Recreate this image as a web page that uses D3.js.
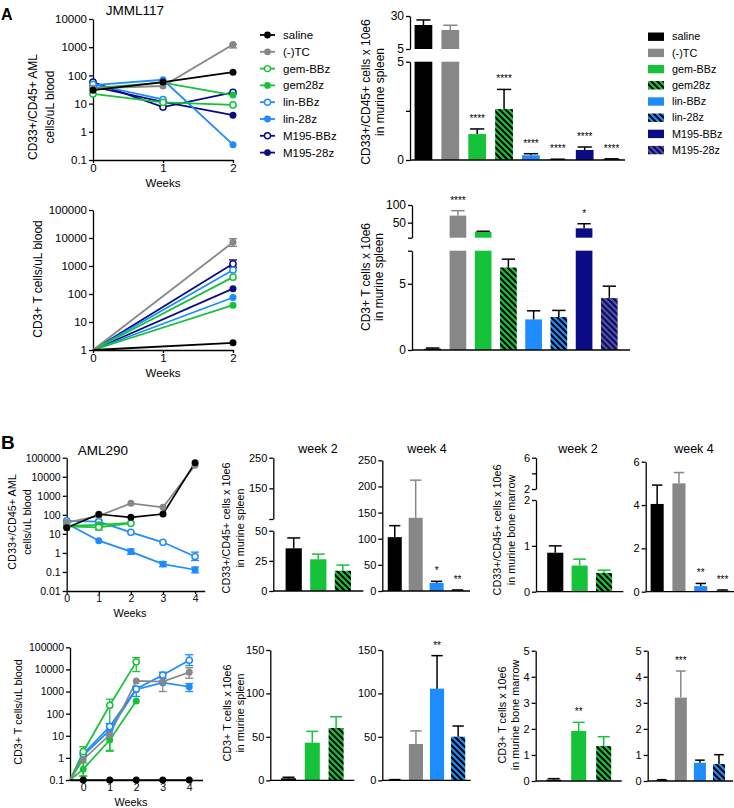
<!DOCTYPE html>
<html><head><meta charset="utf-8">
<script src="https://cdn.jsdelivr.net/npm/d3@7"></script>
<style>body{margin:0;background:#fff;}</style>
</head><body>
<script>
// ---------------- DATA ----------------
const seriesNames = ["saline","(-)TC","gem-BBz","gem28z","lin-BBz","lin-28z","M195-BBz","M195-28z"];
const seriesColors = ["#000000","#878787","#16c23a","#16c23a","#1c8cff","#1c8cff","#0b0b85","#0b0b85"];
const seriesOpen  = [false,false,true,false,true,false,true,false];
const seriesHatch = [false,false,false,true,false,true,false,true];

// Panel A: JMML117
const weeksA = [0,1,2];
const aAmlBlood = [[30,58,130],[35,42,1250],[22,11,9],[35,55,20],[48,14,null],[45,70,0.35],[58,7.5,25],[40,11.5,3.9]];
const aAmlBloodErr = [[1,2,940,1250]];
const weeksAT = [0,2];
const aTBlood = [[1,1.8],[1,7000],[1,400],[1,40],[1,720],[1,75],[1,1200],[1,155]];
const aTBloodErr = [[1,1,5000,9500],[6,1,900,1650]];
const aAmlSpleen = [23.2,19.4,1.32,2.59,0.24,0.03,0.51,0.04];
const aAmlSpleenErr = [3.8,3.6,0.26,1.0,0.08,0.01,0.15,0.02];
const aAmlSpleenStars = ["","","****","****","****","****","****","****"];
const aTSpleen = [0.1,70,24,6.23,2.31,2.49,34,3.92];
const aTSpleenErr = [0.05,14,1.7,0.63,0.65,0.5,13,0.9];
const aTSpleenStars = ["","****","","","","","*",""];

// Panel B: AML290
const bSeries = [0,1,2,3,4,5];
const weeksB = [0,1,2,3,4];
const bAmlBlood = [[21,107,74,110,55000],[39,88,400,250,40000],[25,22,36,null,null],[26,30,38,null,null],[48,44,12,3.6,0.65],[35,4.4,1.17,0.26,0.13]];
const bAmlBloodErr = [[2,1,16,29],[4,1,33,52],[4,4,0.4,1.1],[5,2,0.85,1.6],[5,3,0.19,0.34],[5,4,0.09,0.18]];
const weeksBT = [-0.5,0,1,2,3,4];
const bTBlood = [[0.1,0.1,0.1,0.1,0.1,0.1],[0.1,0.85,11,3000,2800,7400],[0.1,1.9,240,22000,null,null],[0.1,0.31,6.4,370,null,null],[0.1,1.5,26,1300,5600,26000],[0.1,1.3,18,1250,2500,1650]];
const bTBloodErr = [[2,1,0.15,3.2],[2,2,2,450],[2,3,8000,34000],[3,1,0.15,0.6],[3,2,2.2,10],[1,4,1000,3000],[1,5,4000,12000],[4,2,10,36],[4,3,600,1700],[4,4,4000,7500],[4,5,15000,46000],[5,5,1000,2300]];

const groupsW2 = ["saline","gem-BBz","gem28z"];
const groupsW4 = ["saline","(-)TC","lin-BBz","lin-28z"];
const bSpleenAmlW2 = [35.4,26.3,16.8], bSpleenAmlW2Err = [8.6,4.3,4.7];
const bSpleenAmlW4 = [103,140,15.5,1], bSpleenAmlW4Err = [22,72,3,1], bSpleenAmlW4Stars = ["","","*","**"];
const bBmAmlW2 = [0.85,0.57,0.41], bBmAmlW2Err = [0.15,0.14,0.06];
const bBmAmlW4 = [4.05,5.0,0.26,0.05], bBmAmlW4Err = [0.87,0.5,0.12,0.03], bBmAmlW4Stars = ["","","**","***"];
const bSpleenTW2 = [2.3,43.3,60.2], bSpleenTW2Err = [1.2,13,13];
const bSpleenTW4 = [0.5,41.8,105.5,50.2], bSpleenTW4Err = [0.3,15,38,12.3], bSpleenTW4Stars = ["","","**",""];
const bBmTW2 = [0.05,1.92,1.34], bBmTW2Err = [0.04,0.33,0.36], bBmTW2Stars = ["","**",""];
const bBmTW4 = [0.03,3.2,0.7,0.65], bBmTW4Err = [0.02,1.02,0.1,0.36], bBmTW4Stars = ["","***","",""];

// ---------------- DRAWING ----------------
const FONT = '"Liberation Sans", Arial, Helvetica, sans-serif';
const svg = d3.select("body").append("svg").attr("width",734).attr("height",808)
  .style("font-family",FONT);
const defs = svg.append("defs");
seriesNames.forEach((n,i)=>{
  if(!seriesHatch[i]) return;
  const p = defs.append("pattern").attr("id","hatch"+i).attr("patternUnits","userSpaceOnUse")
    .attr("width",6).attr("height",6);
  p.append("rect").attr("width",6).attr("height",6).attr("fill",seriesColors[i]);
  p.append("path").attr("d","M-1,-1L7,7M-1,5L1,7M5,-1L7,1")
    .attr("stroke", i===7 ? "#5e5e7c" : "#000").attr("stroke-width", i===7 ? 1.8 : 2);
});
const fillOf = i => seriesHatch[i] ? `url(#hatch${i})` : seriesColors[i];

function styleAxis(g, fs){
  g.attr("font-family",FONT);
  g.selectAll("text").attr("font-size",fs).attr("fill","#000");
  g.selectAll("path,line").attr("stroke","#000").attr("stroke-width",1.3);
}
function txt(x,y,s,fs,opt={}){
  return svg.append("text").attr("x",x).attr("y",y).attr("text-anchor",opt.anchor||"middle")
    .attr("dy",opt.dy||"0.35em").attr("font-size",fs).attr("font-weight",opt.bold?"bold":null)
    .attr("fill","#000").text(s);
}
function vlabel(x,y,s,fs){
  svg.append("text").attr("transform",`translate(${x},${y}) rotate(-90)`).attr("text-anchor","middle")
    .attr("dy","0.35em").attr("font-size",fs).attr("fill","#000").text(s);
}

function linePanel(o){
  const g = svg.append("g");
  const x = d3.scaleLinear().domain(o.xDomain).range(o.xRange);
  const y = d3.scaleLog().domain(o.yDomain).range(o.yRange);
  const fmt = d => d>=1 ? d3.format("d")(d) : String(+d.toPrecision(1));
  const ya = g.append("g").attr("transform",`translate(${o.xRange[0]},0)`)
    .call(d3.axisLeft(y).tickValues(o.yTicks).tickFormat(fmt).tickSize(4).tickSizeOuter(0).tickPadding(2));
  const xa = g.append("g").attr("transform",`translate(0,${o.yRange[0]})`)
    .call(d3.axisBottom(x).tickValues(o.xTicks).tickFormat(d3.format("d")).tickSize(3).tickSizeOuter(0).tickPadding(1));
  styleAxis(ya,o.fs); styleAxis(xa,o.fs);
  const line = d3.line().defined(d=>d.v!=null).x(d=>x(d.w)).y(d=>y(d.v));
  const order = o.series.map((s,k)=>k).reverse();
  order.forEach(k=>{
    const si = o.series[k];
    const pts = o.weeks.map((w,j)=>({w, v:o.data[k][j]}));
    g.append("path").datum(pts).attr("d",line).attr("fill","none")
      .attr("stroke",seriesColors[si]).attr("stroke-width",o.lw);
  });
  o.errs.forEach(([k,j,lo,hi])=>{
    const col = seriesColors[o.series[k]];
    const cx = x(o.weeks[j]);
    g.append("line").attr("x1",cx).attr("x2",cx).attr("y1",y(lo)).attr("y2",y(hi)).attr("stroke",col).attr("stroke-width",1.3);
    [lo,hi].forEach(v=>g.append("line").attr("x1",cx-4).attr("x2",cx+4).attr("y1",y(v)).attr("y2",y(v)).attr("stroke",col).attr("stroke-width",1.3));
  });
  order.forEach(k=>{
    const si = o.series[k];
    o.weeks.forEach((w,j)=>{
      const v = o.data[k][j];
      if(v==null || w<=o.markerFrom) return;
      g.append("circle").attr("cx",x(w)).attr("cy",y(v)).attr("r",seriesOpen[si]?3.1:3.5)
        .attr("fill",seriesOpen[si]?"#fff":seriesColors[si])
        .attr("stroke",seriesColors[si]).attr("stroke-width",seriesOpen[si]?1.5:0);
    });
  });
}

function barPanel(o){
  const g = svg.append("g");
  const x = d3.scaleBand().domain(o.groups).range([o.x0,o.x1]).paddingInner(o.pi).paddingOuter(o.po);
  const bw = x.bandwidth();
  const segs = o.segs.map(s=>Object.assign({},s,{y:d3.scaleLinear().domain(s.domain).range(s.range)}));
  segs.forEach(s=>{
    const a = g.append("g").attr("transform",`translate(${o.x0},0)`)
      .call(d3.axisLeft(s.y).tickValues(s.ticks).tickFormat((d,i)=>s.labels[i]).tickSize(4).tickSizeOuter(0).tickPadding(2));
    styleAxis(a,o.fs);
  });
  const base = segs[0];
  o.groups.forEach((name,i)=>{
    const si = seriesNames.indexOf(name);
    const v = o.values[i], e = o.errs[i];
    segs.forEach(s=>{
      if(v > s.domain[0]){
        const top = Math.min(v, s.domain[1]);
        g.append("rect").attr("x",x(name)).attr("y",s.y(top)).attr("width",bw)
          .attr("height",s.y(s.domain[0])-s.y(top)).attr("fill",fillOf(si));
      }
    });
    const seg = segs.find(s=>v>=s.domain[0] && v<=s.domain[1]) || segs[segs.length-1];
    const cx = x(name)+bw/2, yv = seg.y(v), ye = seg.y(v+e);
    const col = o.errColor(name);
    g.append("line").attr("x1",cx).attr("x2",cx).attr("y1",yv).attr("y2",ye).attr("stroke",col).attr("stroke-width",1.5);
    g.append("line").attr("x1",cx-bw*0.4).attr("x2",cx+bw*0.4).attr("y1",ye).attr("y2",ye).attr("stroke",col).attr("stroke-width",1.5);
    if(o.stars && o.stars[i]){
      g.append("text").attr("x",cx).attr("y",ye-7).attr("text-anchor","middle")
        .attr("font-size",10).attr("fill","#000").attr("opacity",0.99).text(o.stars[i]);
    }
  });
  g.append("line").attr("x1",o.x0).attr("x2",o.x1).attr("y1",base.y(0)).attr("y2",base.y(0))
    .attr("stroke","#000").attr("stroke-width",1.3);
}

const errA = n => n==="(-)TC" ? seriesColors[1] : "#000";
const errB = n => n==="(-)TC" ? seriesColors[1] : (n.startsWith("gem") ? seriesColors[2] : "#000");

// ---------- Panel A ----------
txt(1,14,"A",16,{anchor:"start",dy:0,bold:true});
txt(135,10,"JMML117",13.5);
linePanel({weeks:weeksA, data:aAmlBlood, series:[0,1,2,3,4,5,6,7], errs:aAmlBloodErr,
  xDomain:[0,2], xRange:[93,233], yDomain:[0.1,10000], yRange:[160,19],
  yTicks:[0.1,1,10,100,1000,10000], xTicks:[0,1,2], fs:11.5, lw:1.8, markerFrom:-Infinity});
vlabel(33,107,"CD33+/CD45+ AML",12); vlabel(50,107,"cells/uL blood",12);
txt(163,183,"Weeks",11.5);

linePanel({weeks:weeksAT, data:aTBlood, series:[0,1,2,3,4,5,6,7], errs:aTBloodErr,
  xDomain:[0,2], xRange:[93,233], yDomain:[1,100000], yRange:[350,210],
  yTicks:[1,10,100,1000,10000,100000], xTicks:[0,1,2], fs:11.5, lw:1.8, markerFrom:0});
vlabel(38,279,"CD3+ T cells/uL blood",12);
txt(163,373,"Weeks",11.5);

// line legend
seriesNames.forEach((n,i)=>{
  const yy = 35+i*16.8;
  svg.append("line").attr("x1",260).attr("x2",275).attr("y1",yy).attr("y2",yy).attr("stroke",seriesColors[i]).attr("stroke-width",1.8);
  svg.append("circle").attr("cx",267.5).attr("cy",yy).attr("r",seriesOpen[i]?3:3.4)
    .attr("fill",seriesOpen[i]?"#fff":seriesColors[i]).attr("stroke",seriesColors[i]).attr("stroke-width",seriesOpen[i]?1.4:0);
  txt(283,yy,n,11.5,{anchor:"start"});
});

barPanel({groups:seriesNames, values:aAmlSpleen, errs:aAmlSpleenErr, stars:aAmlSpleenStars,
  x0:410, x1:625, pi:0.34, po:0.17, fs:12, errColor:errA,
  segs:[{domain:[0,5],range:[160,61.7],ticks:[0,2.5,5],labels:["0","","5"]},
        {domain:[5,30],range:[49,16],ticks:[5,30],labels:["5","30"]}]});
vlabel(366,92,"CD33+/CD45+ cells x 10e6",12); vlabel(380,92,"in murine spleen",12);

// bar legend
seriesNames.forEach((n,i)=>{
  const yy = 36.7+i*16.2;
  svg.append("rect").attr("x",648).attr("y",yy-4.2).attr("width",16).attr("height",8.4).attr("fill",fillOf(i));
  txt(672,yy,n,10.8,{anchor:"start"});
});

barPanel({groups:seriesNames, values:aTSpleen, errs:aTSpleenErr, stars:aTSpleenStars,
  x0:412, x1:630, pi:0.34, po:0.49, fs:12, errColor:errA,
  segs:[{domain:[0,7.5],range:[350,250.7],ticks:[0,5,7.5],labels:["0","5",""]},
        {domain:[7.5,100],range:[237.7,205],ticks:[7.5,50,100],labels:["","50","100"]}]});
vlabel(366,277,"CD3+ T cells x 10e6",12); vlabel(379,277,"in murine spleen",12);

// ---------- Panel B ----------
txt(1,442,"B",19,{anchor:"start",dy:0,bold:true});
txt(103,450,"AML290",13.5);
linePanel({weeks:weeksB, data:bAmlBlood, series:bSeries, errs:bAmlBloodErr,
  xDomain:[0,4.3], xRange:[66.7,204.7], yDomain:[0.01,100000], yRange:[591,457.7],
  yTicks:[0.01,0.1,1,10,100,1000,10000,100000], xTicks:[0,1,2,3,4], fs:10.5, lw:1.7, markerFrom:-Infinity});
vlabel(12,522,"CD33+/CD45+ AML",10.8); vlabel(27,522,"cells/uL blood",10.8);
txt(130,613,"Weeks",10.8);

linePanel({weeks:weeksBT, data:bTBlood, series:bSeries, errs:bTBloodErr,
  xDomain:[-0.5,4.5], xRange:[70,202.5], yDomain:[0.1,100000], yRange:[780,647.3],
  yTicks:[0.1,1,10,100,1000,10000,100000], xTicks:[0,1,2,3,4], fs:10.5, lw:1.7, markerFrom:-0.5});
vlabel(18,712,"CD3+ T cells/uL blood",10.8);
txt(131,802,"Weeks",10.8);

// titles
txt(318,449,"week 2",12.5); txt(427,449,"week 4",12.5);
txt(578,449,"week 2",12.5); txt(694,449,"week 4",12.5);

barPanel({groups:groupsW2, values:bSpleenAmlW2, errs:bSpleenAmlW2Err, x0:273.3, x1:363.3, pi:0.34, po:0.5, fs:11, errColor:errB,
  segs:[{domain:[0,50],range:[591,530.7],ticks:[0,25,50],labels:["0","25","50"]},
        {domain:[50,250],range:[519,457.7],ticks:[50,150,250],labels:["","150","250"]}]});
vlabel(226,528,"CD33+/CD45+ cells x 10e6",10.8); vlabel(240,528,"in murine spleen",10.8);

barPanel({groups:groupsW4, values:bSpleenAmlW4, errs:bSpleenAmlW4Err, stars:bSpleenAmlW4Stars, x0:382.3, x1:470, pi:0.33, po:0.26, fs:11, errColor:errB,
  segs:[{domain:[0,250],range:[591,460.3],ticks:[0,50,100,150,200,250],labels:["0","50","100","150","200","250"]}]});

barPanel({groups:groupsW2, values:bBmAmlW2, errs:bBmAmlW2Err, x0:536, x1:623.3, pi:0.34, po:0.46, fs:11, errColor:errB,
  segs:[{domain:[0,2],range:[591.7,500],ticks:[0,1,2],labels:["0","1","2"]},
        {domain:[2,6],range:[489,457.7],ticks:[2,4,6],labels:["2","","6"]}]});
vlabel(497,530,"CD33+/CD45+ cells x 10e6",10.8); vlabel(511,530,"in murine bone marrow",10.8);

barPanel({groups:groupsW4, values:bBmAmlW4, errs:bBmAmlW4Err, stars:bBmAmlW4Stars, x0:645.7, x1:734, pi:0.4, po:0.225, fs:11, errColor:errB,
  segs:[{domain:[0,6],range:[591.7,461.7],ticks:[0,2,4,6],labels:["0","2","4","6"]}]});

barPanel({groups:groupsW2, values:bSpleenTW2, errs:bSpleenTW2Err, x0:270.3, x1:354.3, pi:0.37, po:0.45, fs:11, errColor:errB,
  segs:[{domain:[0,150],range:[780.3,650],ticks:[0,50,100,150],labels:["0","50","100","150"]}]});
vlabel(227,713,"CD3+ T cells x 10e6",10.8); vlabel(240,713,"in murine spleen",10.8);

barPanel({groups:groupsW4, values:bSpleenTW4, errs:bSpleenTW4Err, stars:bSpleenTW4Stars, x0:382.3, x1:470.7, pi:0.33, po:0.26, fs:11, errColor:errB,
  segs:[{domain:[0,150],range:[780.3,650],ticks:[0,50,100,150],labels:["0","50","100","150"]}]});

barPanel({groups:groupsW2, values:bBmTW2, errs:bBmTW2Err, stars:bBmTW2Stars, x0:535.7, x1:621.7, pi:0.4, po:0.42, fs:11, errColor:errB,
  segs:[{domain:[0,5],range:[781,650.7],ticks:[0,1,2,3,4,5],labels:["0","1","2","3","4","5"]}]});
vlabel(502,715,"CD3+ T cells x 10e6",10.8); vlabel(515,715,"in murine bone marrow",10.8);

barPanel({groups:groupsW4, values:bBmTW4, errs:bBmTW4Err, stars:bBmTW4Stars, x0:647.7, x1:733, pi:0.37, po:0.42, fs:11, errColor:errB,
  segs:[{domain:[0,5],range:[781,650.7],ticks:[0,1,2,3,4,5],labels:["0","1","2","3","4","5"]}]});
</script>
</body></html>
